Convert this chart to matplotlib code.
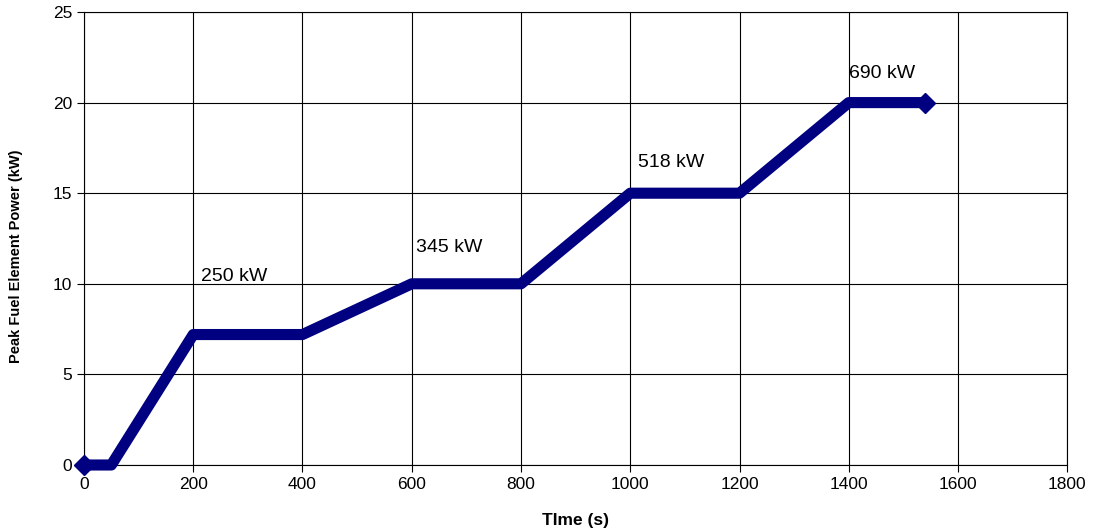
import matplotlib.pyplot as plt

# time (s) and peak fuel element power (kW)
time_s = [0, 50, 200, 400, 600, 800, 1000, 1200, 1400, 1540]
power_kw = [0, 0, 7.2, 7.2, 10, 10, 15, 15, 20, 20]

labels = ['250 kW', '345 kW', '518 kW', '690 kW']
label_x = [214, 608, 1015, 1401]
label_y = [10.4, 12.0, 16.7, 21.6]

xticks = list(range(0, 2000, 200))
yticks = list(range(0, 30, 5))

plt.rcParams['font.family'] = ['Liberation Sans', 'DejaVu Sans']

fig = plt.figure(figsize=(10.98, 5.31), dpi=100)
ax = fig.add_axes([0.0765, 0.1243, 0.8955, 0.8531])

ax.plot(time_s, power_kw, color='#000080', linewidth=8,
        solid_joinstyle='round', solid_capstyle='butt',
        marker='D', markersize=10, markevery=[0, len(time_s) - 1],
        clip_on=False, zorder=3)

for txt, x, y in zip(labels, label_x, label_y):
    ax.text(x, y, txt, fontsize=14, va='center', ha='left', zorder=4)

ax.set_xlim(0, 1800)
ax.set_ylim(0, 25)
ax.set_xticks(xticks)
ax.set_yticks(yticks)
ax.grid(True, color='black', linewidth=0.8)
ax.tick_params(labelsize=12.5, length=5, width=0.8, color='black', direction='out')
for s in ax.spines.values():
    s.set_color('black')
    s.set_linewidth(0.8)

ax.set_xlabel('TIme (s)', fontsize=12.5, fontweight='bold')
ax.xaxis.set_label_coords(0.5, -0.105)
ax.set_ylabel('Peak Fuel Element Power (kW)', fontsize=10.5, fontweight='bold')
ax.yaxis.set_label_coords(-0.062, 0.46)

fig.savefig('out.png', dpi=100)
